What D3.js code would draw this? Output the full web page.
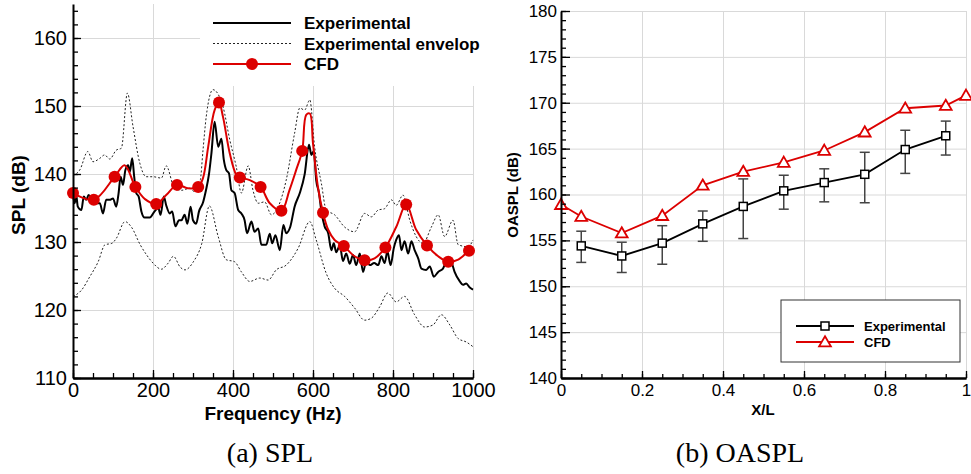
<!DOCTYPE html>
<html>
<head>
<meta charset="utf-8">
<script src="https://cdn.jsdelivr.net/npm/d3@7"></script>
<style>
  body { margin: 0; background: #fff; }
  svg text { font-family: "Liberation Sans", Arial, Helvetica, sans-serif; }
</style>
</head>
<body>
<div id="chart"></div>
<script>
// ---- (a) SPL spectrum ----
var expFreq = [0, 4, 8, 12, 21, 27, 33, 39, 46, 54, 67, 75, 83, 92, 100, 108, 114, 119, 125, 131, 138, 142, 148, 153, 158, 164, 171, 179, 192, 204, 213, 219, 227, 233, 242, 248, 256, 265, 271, 279, 286, 294, 300, 308, 315, 325, 332, 340, 346, 354, 363, 371, 377, 383, 390, 396, 404, 413, 421, 429, 435, 446, 454, 463, 471, 483, 492, 498, 506, 517, 526, 533, 543, 554, 567, 579, 590, 596, 602, 608, 615, 621, 629, 638, 646, 652, 658, 667, 675, 683, 692, 700, 708, 717, 725, 733, 742, 753, 763, 771, 779, 786, 794, 802, 808, 815, 821, 829, 838, 846, 854, 863, 871, 883, 892, 902, 913, 925, 938, 946, 954, 967, 975, 983, 992, 1000];
var expSpl = [136.9, 135.7, 136.9, 135.2, 134.7, 136.7, 136.2, 136.9, 136.4, 135.7, 135.7, 134.2, 136.2, 136.2, 136.4, 135.2, 137.2, 139.6, 138.4, 140.6, 141.3, 140.3, 142.3, 139.6, 137.2, 136.7, 134.5, 133.6, 133.6, 134.5, 135.0, 134.0, 136.7, 135.4, 134.2, 134.5, 132.3, 133.2, 133.2, 134.0, 132.7, 135.2, 133.2, 132.7, 134.5, 135.8, 137.5, 140.0, 143.0, 147.7, 144.0, 145.2, 142.1, 140.6, 140.1, 137.6, 137.2, 134.7, 134.2, 133.2, 131.3, 133.0, 131.5, 132.0, 129.6, 129.6, 131.2, 129.8, 131.0, 128.8, 132.5, 131.3, 132.2, 135.2, 137.2, 139.9, 144.3, 142.8, 143.4, 139.1, 137.2, 134.5, 132.3, 131.3, 128.8, 129.8, 128.5, 129.5, 127.2, 128.3, 126.8, 128.1, 126.6, 128.3, 125.6, 127.1, 126.6, 126.9, 126.6, 127.9, 126.9, 128.6, 126.6, 129.1, 130.3, 131.0, 128.8, 130.1, 128.3, 130.1, 128.8, 127.6, 126.1, 125.9, 126.4, 124.9, 125.6, 126.1, 127.6, 127.1, 125.6, 124.2, 123.7, 123.9, 123.3, 123.0];

var envHiFreq = [0, 17, 37, 50, 67, 79, 92, 108, 121, 136, 150, 167, 183, 200, 221, 233, 254, 271, 292, 304, 318, 325, 333, 350, 375, 392, 408, 421, 438, 450, 463, 479, 496, 513, 533, 554, 567, 579, 592, 604, 621, 633, 654, 679, 704, 729, 746, 763, 779, 796, 808, 825, 842, 858, 875, 896, 913, 929, 950, 963, 988, 1000];
var envHiSpl = [139.8, 140.6, 143.3, 141.8, 142.3, 142.8, 142.2, 143.5, 143.8, 151.9, 147.0, 141.6, 139.6, 139.6, 139.4, 141.2, 137.9, 137.6, 137.9, 137.4, 139.0, 143.5, 148.4, 152.4, 149.9, 145.0, 141.1, 137.2, 141.2, 137.6, 135.7, 135.9, 134.0, 135.2, 139.1, 146.0, 149.7, 149.4, 150.9, 144.0, 138.6, 134.7, 134.0, 132.2, 131.5, 134.2, 133.7, 134.7, 134.9, 136.2, 135.4, 136.9, 133.2, 130.8, 129.8, 132.2, 134.0, 130.8, 133.2, 129.6, 129.3, 130.3];

var envLoFreq = [0, 21, 42, 63, 80, 97, 108, 130, 146, 168, 184, 200, 221, 238, 251, 268, 280, 301, 322, 341, 363, 383, 404, 421, 442, 467, 488, 508, 533, 563, 592, 608, 633, 654, 679, 704, 729, 746, 767, 787, 808, 829, 854, 879, 900, 921, 942, 963, 983, 1000];
var envLoSpl = [122.0, 122.9, 124.9, 127.1, 129.6, 129.8, 130.5, 133.0, 132.2, 129.6, 128.1, 126.9, 126.0, 126.9, 127.9, 126.3, 125.9, 127.1, 129.8, 135.3, 130.8, 127.4, 127.1, 125.6, 124.2, 124.7, 124.4, 125.9, 126.6, 129.1, 133.0, 130.3, 125.4, 123.2, 122.0, 120.3, 118.5, 118.8, 120.5, 122.5, 121.2, 122.0, 119.3, 117.5, 117.8, 119.3, 117.8, 115.8, 115.3, 114.6];

// CFD: marked samples plus in-between samples of the same curve
var cfdMarkFreq = [0, 52, 104, 156, 208, 260, 313, 365, 417, 469, 521, 573, 625, 677, 729, 781, 833, 885, 938, 990];
var cfdMarkSpl = [137.2, 136.2, 139.6, 138.1, 135.6, 138.4, 138.1, 150.5, 139.5, 138.1, 134.6, 143.4, 134.3, 129.4, 127.3, 129.2, 135.5, 129.5, 127.1, 128.7];
var cfdMidFreq = [129, 180, 233, 287, 325, 338, 354, 375, 392, 408, 442, 492, 541, 558, 583, 592, 600, 612, 638, 654, 704, 754, 808, 858, 913, 963, 1000];
var cfdMidSpl = [141.3, 136.3, 136.9, 137.9, 139.4, 144.0, 149.4, 148.4, 143.0, 139.9, 139.1, 135.7, 137.6, 140.6, 148.7, 148.9, 144.5, 138.2, 131.8, 130.3, 127.9, 127.6, 132.2, 131.8, 127.9, 127.4, 129.0];

var splLegend = ['Experimental', 'Experimental envelop', 'CFD'];

// ---- (b) OASPL along the body ----
var expXL = [0.05, 0.15, 0.25, 0.35, 0.45, 0.55, 0.65, 0.75, 0.85, 0.95];
var expOaspl = [154.4, 153.3, 154.7, 156.8, 158.7, 160.4, 161.3, 162.2, 164.9, 166.4];
var expOasplHi = [156.0, 154.8, 156.6, 158.2, 161.7, 162.1, 162.8, 164.6, 167.0, 168.0];
var expOasplLo = [152.6, 151.5, 152.4, 154.9, 155.2, 158.4, 159.2, 159.1, 162.3, 164.3];
var cfdXL = [0, 0.05, 0.15, 0.25, 0.35, 0.45, 0.55, 0.65, 0.75, 0.85, 0.95, 1.0];
var cfdOaspl = [158.9, 157.6, 155.8, 157.7, 161.0, 162.5, 163.5, 164.8, 166.8, 169.4, 169.7, 170.8];

var oasplLegend = ['Experimental', 'CFD'];

var RED = '#dc0000';
var GRID = '#d9d9d9';

var svg = d3.select('#chart').append('svg')
    .attr('width', 971)
    .attr('height', 474);

svg.append('rect').attr('width', 971).attr('height', 474).attr('fill', '#fff');

function range(a, b, step) {
    var out = [];
    for (var v = a; v <= b + 1e-9; v += step) out.push(+v.toFixed(4));
    return out;
}

function styleAxis(g, w) {
    g.select('.domain').attr('stroke', '#000').attr('stroke-width', w);
    g.selectAll('.tick line').attr('stroke', '#000').attr('stroke-width', 1.3);
}

// ================= left panel =================
var x1 = d3.scaleLinear().domain([0, 1000]).range([73, 473]);
var y1 = d3.scaleLinear().domain([110, 165]).range([378, 4]);

var gA = svg.append('g');

// grid
gA.append('g')
    .attr('transform', 'translate(0,378)')
    .call(d3.axisBottom(x1).tickValues([200, 400, 600, 800, 1000]).tickSize(-374).tickFormat(''))
    .call(function(g) { g.select('.domain').remove(); g.selectAll('line').attr('stroke', GRID); });
gA.append('g')
    .attr('transform', 'translate(73,0)')
    .call(d3.axisLeft(y1).tickValues([120, 130, 140, 150, 160]).tickSize(-400).tickFormat(''))
    .call(function(g) { g.select('.domain').remove(); g.selectAll('line').attr('stroke', GRID); });

// legend background hides the grid behind it
gA.append('rect')
    .attr('x', 200).attr('y', 0)
    .attr('width', 290).attr('height', 86)
    .attr('fill', '#fff');

var lineA = d3.line()
    .x(function(d) { return x1(d[0]); })
    .y(function(d) { return y1(d[1]); })
    .curve(d3.curveMonotoneX);

gA.append('path')
    .datum(d3.zip(envHiFreq, envHiSpl))
    .attr('d', lineA)
    .attr('fill', 'none').attr('stroke', '#222').attr('stroke-width', 1)
    .attr('stroke-dasharray', '2,2');
gA.append('path')
    .datum(d3.zip(envLoFreq, envLoSpl))
    .attr('d', lineA)
    .attr('fill', 'none').attr('stroke', '#222').attr('stroke-width', 1)
    .attr('stroke-dasharray', '2,2');

gA.append('path')
    .datum(d3.zip(expFreq, expSpl))
    .attr('d', lineA)
    .attr('fill', 'none').attr('stroke', '#000').attr('stroke-width', 2);

var cfdAll = d3.zip(cfdMarkFreq, cfdMarkSpl).concat(d3.zip(cfdMidFreq, cfdMidSpl))
    .sort(function(a, b) { return a[0] - b[0]; });

gA.append('path')
    .datum(cfdAll)
    .attr('d', lineA.curve(d3.curveCatmullRom.alpha(0.5)))
    .attr('fill', 'none').attr('stroke', RED).attr('stroke-width', 2);
lineA.curve(d3.curveMonotoneX);

gA.selectAll('circle.cfd')
    .data(d3.zip(cfdMarkFreq, cfdMarkSpl))
    .enter().append('circle')
    .attr('class', 'cfd')
    .attr('cx', function(d) { return x1(d[0]); })
    .attr('cy', function(d) { return y1(d[1]); })
    .attr('r', 6)
    .attr('fill', RED);

// axes
gA.append('g')
    .attr('transform', 'translate(0,378)')
    .call(d3.axisBottom(x1).tickValues(range(0, 1000, 50)).tickSize(-5).tickSizeOuter(0).tickFormat(''))
    .call(function(g) { styleAxis(g, 2); });
gA.append('g')
    .attr('transform', 'translate(0,378)')
    .call(d3.axisBottom(x1).tickValues(range(0, 1000, 200)).tickSize(-8).tickSizeOuter(0).tickPadding(5)
        .tickFormat(d3.format('d')))
    .call(function(g) {
        styleAxis(g, 2);
        g.selectAll('text').attr('font-size', 20).attr('fill', '#000')
            .style('font-family', '"Liberation Sans", Arial, sans-serif');
    });
gA.append('g')
    .attr('transform', 'translate(73,0)')
    .call(d3.axisLeft(y1).tickValues(range(110, 164, 2)).tickSize(-5).tickSizeOuter(0).tickFormat(''))
    .call(function(g) { styleAxis(g, 2); });
gA.append('g')
    .attr('transform', 'translate(73,0)')
    .call(d3.axisLeft(y1).tickValues(range(110, 160, 10)).tickSize(-8).tickSizeOuter(0).tickPadding(6))
    .call(function(g) {
        g.select('.domain').remove();
        g.selectAll('.tick line').attr('stroke', '#000').attr('stroke-width', 1.3);
        g.selectAll('text').attr('font-size', 20).attr('fill', '#000')
            .style('font-family', '"Liberation Sans", Arial, sans-serif');
    });

gA.append('text')
    .attr('x', 273).attr('y', 420)
    .attr('text-anchor', 'middle')
    .attr('font-size', 19).attr('font-weight', 'bold')
    .text('Frequency (Hz)');
gA.append('text')
    .attr('transform', 'translate(25,195) rotate(-90)')
    .attr('text-anchor', 'middle')
    .attr('font-size', 19).attr('font-weight', 'bold')
    .text('SPL (dB)');

// legend (a)
var legA = gA.append('g').attr('font-size', 17).attr('font-weight', 'bold');
splLegend.forEach(function(name, i) {
    var yy = 23 + i * 20.5;
    var ln = legA.append('line')
        .attr('x1', 213).attr('x2', 291).attr('y1', yy).attr('y2', yy);
    if (i == 0) ln.attr('stroke', '#000').attr('stroke-width', 2);
    if (i == 1) ln.attr('stroke', '#222').attr('stroke-width', 1).attr('stroke-dasharray', '2,2');
    if (i == 2) {
        ln.attr('stroke', RED).attr('stroke-width', 2);
        legA.append('circle').attr('cx', 252).attr('cy', yy).attr('r', 6).attr('fill', RED);
    }
    legA.append('text')
        .attr('x', 304).attr('y', yy + 6)
        .text(name);
});

svg.append('text')
    .attr('x', 270).attr('y', 462)
    .attr('text-anchor', 'middle')
    .attr('font-size', 28)
    .style('font-family', '"Liberation Serif", "DejaVu Serif", serif')
    .text('(a) SPL');

// ================= right panel =================
var x2 = d3.scaleLinear().domain([0, 1]).range([561, 966]);
var y2 = d3.scaleLinear().domain([140, 180]).range([378, 11]);

var gB = svg.append('g');

gB.append('g')
    .attr('transform', 'translate(0,378)')
    .call(d3.axisBottom(x2).tickValues([0.2, 0.4, 0.6, 0.8, 1]).tickSize(-367).tickFormat(''))
    .call(function(g) { g.select('.domain').remove(); g.selectAll('line').attr('stroke', GRID); });
gB.append('g')
    .attr('transform', 'translate(561,0)')
    .call(d3.axisLeft(y2).tickValues([145, 150, 155, 160, 165, 170, 175, 180]).tickSize(-405).tickFormat(''))
    .call(function(g) { g.select('.domain').remove(); g.selectAll('line').attr('stroke', GRID); });

var lineB = d3.line()
    .x(function(d) { return x2(d[0]); })
    .y(function(d) { return y2(d[1]); });

// error bars
var errs = gB.append('g').attr('stroke', '#444').attr('stroke-width', 1.5);
expXL.forEach(function(xv, i) {
    var cx = x2(xv);
    errs.append('line').attr('x1', cx).attr('x2', cx)
        .attr('y1', y2(expOasplHi[i])).attr('y2', y2(expOasplLo[i]));
    errs.append('line').attr('x1', cx - 5).attr('x2', cx + 5)
        .attr('y1', y2(expOasplHi[i])).attr('y2', y2(expOasplHi[i]));
    errs.append('line').attr('x1', cx - 5).attr('x2', cx + 5)
        .attr('y1', y2(expOasplLo[i])).attr('y2', y2(expOasplLo[i]));
});

gB.append('path')
    .datum(d3.zip(expXL, expOaspl))
    .attr('d', lineB)
    .attr('fill', 'none').attr('stroke', '#000').attr('stroke-width', 1.8);
gB.append('path')
    .datum(d3.zip(cfdXL, cfdOaspl))
    .attr('d', lineB)
    .attr('fill', 'none').attr('stroke', RED).attr('stroke-width', 1.8);

var tri = d3.symbol().type(d3.symbolTriangle).size(60);

gB.selectAll('rect.exp')
    .data(d3.zip(expXL, expOaspl))
    .enter().append('rect')
    .attr('class', 'exp')
    .attr('x', function(d) { return x2(d[0]) - 4; })
    .attr('y', function(d) { return y2(d[1]) - 4; })
    .attr('width', 8).attr('height', 8)
    .attr('fill', '#fff').attr('stroke', '#000').attr('stroke-width', 1.5);

gB.selectAll('path.cfd')
    .data(d3.zip(cfdXL, cfdOaspl))
    .enter().append('path')
    .attr('class', 'cfd')
    .attr('d', tri)
    .attr('transform', function(d) { return 'translate(' + x2(d[0]) + ',' + (y2(d[1]) + 1) + ')'; })
    .attr('fill', '#fff').attr('stroke', RED).attr('stroke-width', 1.8);

// axes
gB.append('g')
    .attr('transform', 'translate(0,378)')
    .call(d3.axisBottom(x2).tickValues(range(0, 1, 0.05)).tickSize(-4).tickSizeOuter(0).tickFormat(''))
    .call(function(g) { styleAxis(g, 2); });
gB.append('g')
    .attr('transform', 'translate(0,378)')
    .call(d3.axisBottom(x2).tickValues(range(0, 1, 0.2)).tickSize(-7).tickSizeOuter(0).tickPadding(6)
        .tickFormat(function(d) { return d == 0 ? '0' : d == 1 ? '1' : d3.format('.1f')(d); }))
    .call(function(g) {
        styleAxis(g, 2);
        g.selectAll('text').attr('font-size', 17).attr('fill', '#000')
            .style('font-family', '"Liberation Sans", Arial, sans-serif');
    });
gB.append('g')
    .attr('transform', 'translate(561,0)')
    .call(d3.axisLeft(y2).tickValues(range(140, 180, 1)).tickSize(-5).tickSizeOuter(0).tickFormat(''))
    .call(function(g) { styleAxis(g, 2); });
gB.append('g')
    .attr('transform', 'translate(561,0)')
    .call(d3.axisLeft(y2).tickValues(range(140, 180, 5)).tickSize(-9).tickSizeOuter(0).tickPadding(4))
    .call(function(g) {
        g.select('.domain').remove();
        g.selectAll('.tick line').attr('stroke', '#000').attr('stroke-width', 1.3);
        g.selectAll('text').attr('font-size', 17).attr('fill', '#000')
            .style('font-family', '"Liberation Sans", Arial, sans-serif');
    });

gB.append('text')
    .attr('x', 763).attr('y', 415)
    .attr('text-anchor', 'middle')
    .attr('font-size', 15).attr('font-weight', 'bold')
    .text('X/L');
gB.append('text')
    .attr('transform', 'translate(518,195) rotate(-90)')
    .attr('text-anchor', 'middle')
    .attr('font-size', 15).attr('font-weight', 'bold')
    .text('OASPL (dB)');

// legend (b)
var legB = gB.append('g');
legB.append('rect')
    .attr('x', 781).attr('y', 300).attr('width', 179).attr('height', 62)
    .attr('fill', '#fff').attr('stroke', '#333').attr('stroke-width', 1);
oasplLegend.forEach(function(name, i) {
    var yy = 326 + i * 16;
    legB.append('line')
        .attr('x1', 796).attr('x2', 854).attr('y1', yy).attr('y2', yy)
        .attr('stroke', i == 0 ? '#000' : RED).attr('stroke-width', 1.8);
    if (i == 0) {
        legB.append('rect').attr('x', 821).attr('y', yy - 4).attr('width', 8).attr('height', 8)
            .attr('fill', '#fff').attr('stroke', '#000').attr('stroke-width', 1.5);
    } else {
        legB.append('path').attr('d', tri)
            .attr('transform', 'translate(825,' + (yy + 1) + ')')
            .attr('fill', '#fff').attr('stroke', RED).attr('stroke-width', 1.8);
    }
    legB.append('text')
        .attr('x', 864).attr('y', yy + 5)
        .attr('font-size', 13).attr('font-weight', 'bold')
        .text(name);
});

svg.append('text')
    .attr('x', 740).attr('y', 462)
    .attr('text-anchor', 'middle')
    .attr('font-size', 28)
    .style('font-family', '"Liberation Serif", "DejaVu Serif", serif')
    .text('(b) OASPL');
</script>
</body>
</html>
